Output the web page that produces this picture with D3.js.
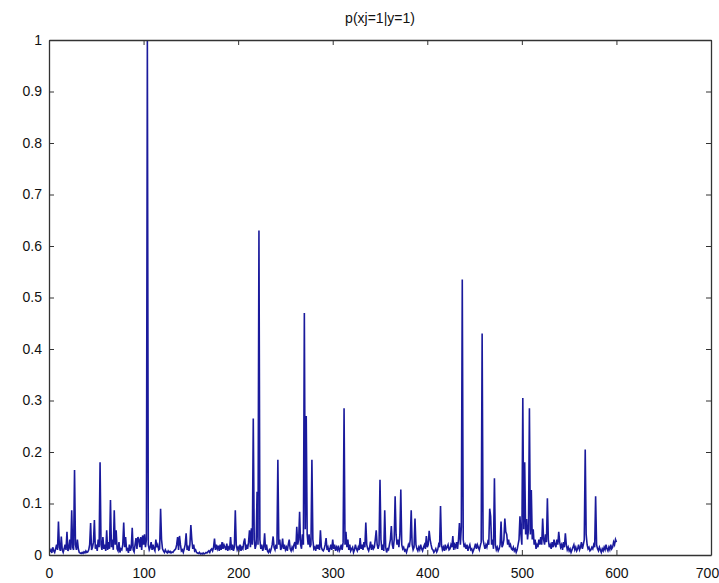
<!DOCTYPE html>
<html>
<head>
<meta charset="utf-8">
<script src="https://cdn.jsdelivr.net/npm/d3@7"></script>
<style>
  html, body { margin: 0; padding: 0; background: #fff; }
  svg { display: block; }
  .axis text { font-family: "Liberation Sans", Arial, sans-serif; font-size: 14px; fill: #111; }
  .axis path, .axis line { stroke: #333; }
</style>
</head>
<body>
<svg id="chart" width="719" height="583"></svg>
<script>
const title = "p(xj=1|y=1)";
const xTicks = [0, 100, 200, 300, 400, 500, 600, 700];
const yTicks = [0, 0.1, 0.2, 0.3, 0.4, 0.5, 0.6, 0.7, 0.8, 0.9, 1];
const xDomain = [0, 700];
const yDomain = [0, 1];

// p(xj=1|y=1) for j = 1..600
const probs = [
  0.006,0.01,0.004,0.015,0.008,0.005,0.012,0.02,0.01,0.065,0.015,0.008,0.036,0.01,0.005,0.012,0.02,0.01,0.045,0.008,
  0.012,0.03,0.01,0.087,0.015,0.01,0.165,0.02,0.01,0.03,0.012,0.005,0.004,0.003,0.005,0.003,0.006,0.004,0.008,0.005,
  0.006,0.01,0.02,0.062,0.01,0.015,0.025,0.068,0.012,0.02,0.008,0.03,0.015,0.18,0.02,0.01,0.035,0.012,0.02,0.008,
  0.048,0.01,0.025,0.012,0.107,0.015,0.03,0.01,0.087,0.02,0.048,0.012,0.008,0.025,0.005,0.012,0.01,0.02,0.063,0.015,
  0.035,0.01,0.012,0.004,0.02,0.008,0.015,0.053,0.01,0.006,0.02,0.033,0.012,0.035,0.03,0.015,0.035,0.01,0.038,0.02,
  0.04,0.015,0.03,1.0,0.02,0.01,0.015,0.025,0.01,0.02,0.012,0.008,0.03,0.015,0.02,0.01,0.012,0.09,0.03,0.012,
  0.008,0.005,0.01,0.006,0.004,0.008,0.005,0.007,0.004,0.006,0.005,0.008,0.01,0.012,0.02,0.035,0.01,0.037,0.02,0.008,
  0.01,0.005,0.012,0.02,0.042,0.01,0.015,0.008,0.02,0.058,0.03,0.012,0.02,0.008,0.01,0.005,0.004,0.003,0.005,0.002,
  0.003,0.002,0.004,0.002,0.003,0.005,0.004,0.006,0.008,0.005,0.01,0.012,0.008,0.015,0.032,0.01,0.02,0.012,0.018,0.008,
  0.02,0.01,0.025,0.012,0.02,0.015,0.01,0.022,0.008,0.015,0.012,0.035,0.01,0.02,0.008,0.015,0.087,0.02,0.01,0.015,
  0.01,0.02,0.008,0.015,0.012,0.025,0.032,0.01,0.02,0.012,0.025,0.048,0.015,0.052,0.02,0.265,0.03,0.012,0.02,0.123,
  0.02,0.63,0.03,0.012,0.02,0.008,0.015,0.042,0.01,0.02,0.008,0.005,0.01,0.006,0.012,0.02,0.036,0.015,0.01,0.02,
  0.012,0.185,0.02,0.03,0.01,0.015,0.032,0.012,0.02,0.01,0.015,0.008,0.02,0.03,0.012,0.008,0.015,0.01,0.02,0.025,
  0.012,0.055,0.02,0.03,0.084,0.02,0.012,0.04,0.02,0.47,0.05,0.27,0.04,0.02,0.04,0.015,0.02,0.185,0.03,0.012,
  0.015,0.008,0.02,0.012,0.02,0.01,0.048,0.015,0.01,0.008,0.012,0.02,0.033,0.01,0.015,0.006,0.012,0.02,0.01,0.03,
  0.012,0.02,0.008,0.015,0.01,0.018,0.008,0.012,0.02,0.01,0.025,0.285,0.02,0.045,0.015,0.03,0.01,0.02,0.008,0.012,
  0.015,0.005,0.01,0.02,0.012,0.008,0.015,0.01,0.033,0.012,0.02,0.01,0.025,0.015,0.063,0.02,0.012,0.008,0.015,0.026,
  0.01,0.02,0.012,0.015,0.03,0.048,0.02,0.012,0.02,0.146,0.03,0.01,0.02,0.008,0.087,0.015,0.005,0.012,0.01,0.02,
  0.03,0.056,0.02,0.012,0.03,0.114,0.04,0.02,0.03,0.015,0.04,0.127,0.02,0.012,0.015,0.008,0.01,0.005,0.012,0.02,
  0.015,0.03,0.087,0.02,0.01,0.015,0.071,0.02,0.012,0.008,0.015,0.01,0.02,0.012,0.008,0.015,0.02,0.012,0.037,0.015,
  0.02,0.047,0.03,0.02,0.012,0.01,0.005,0.008,0.012,0.006,0.01,0.02,0.015,0.095,0.02,0.01,0.015,0.008,0.02,0.012,
  0.015,0.02,0.01,0.012,0.02,0.015,0.037,0.01,0.02,0.015,0.025,0.012,0.03,0.062,0.02,0.055,0.535,0.03,0.015,0.02,
  0.012,0.02,0.008,0.015,0.02,0.01,0.012,0.005,0.01,0.015,0.022,0.012,0.02,0.015,0.01,0.018,0.025,0.43,0.03,0.02,
  0.012,0.02,0.015,0.025,0.02,0.09,0.075,0.02,0.03,0.012,0.149,0.02,0.01,0.015,0.008,0.012,0.02,0.065,0.015,0.02,
  0.03,0.071,0.045,0.04,0.02,0.03,0.015,0.02,0.012,0.01,0.015,0.008,0.012,0.005,0.01,0.02,0.03,0.075,0.04,0.02,
  0.305,0.05,0.18,0.04,0.07,0.03,0.05,0.285,0.04,0.126,0.03,0.05,0.02,0.03,0.012,0.02,0.015,0.03,0.02,0.035,
  0.02,0.071,0.03,0.02,0.04,0.025,0.11,0.03,0.015,0.02,0.012,0.025,0.015,0.03,0.02,0.015,0.03,0.02,0.045,0.025,
  0.015,0.02,0.01,0.025,0.015,0.042,0.02,0.01,0.015,0.008,0.012,0.005,0.01,0.015,0.02,0.01,0.015,0.008,0.012,0.02,
  0.01,0.015,0.025,0.012,0.02,0.03,0.205,0.04,0.02,0.012,0.015,0.008,0.01,0.015,0.012,0.02,0.015,0.114,0.02,0.012,
  0.008,0.015,0.01,0.005,0.012,0.008,0.015,0.01,0.02,0.012,0.008,0.015,0.01,0.02,0.012,0.015,0.025,0.02,0.03,0.025
];

const svg = d3.select("#chart");
const L = 49, R = 711, T = 40, B = 555;
const x = d3.scaleLinear().domain(xDomain).range([L, R]);
const y = d3.scaleLinear().domain(yDomain).range([B, T]);

// data line
const line = d3.line().x((d, i) => x(i + 1)).y(d => y(d));
svg.append("path")
  .datum(probs)
  .attr("fill", "none")
  .attr("stroke", "#1a1a9c")
  .attr("stroke-width", 1.6)
  .attr("stroke-linejoin", "miter")
  .attr("d", line);

const fmt = d => String(d);
const tk = 5;

const gx = svg.append("g").attr("class", "axis")
  .attr("transform", `translate(0,${B})`)
  .call(d3.axisBottom(x).tickValues(xTicks).tickFormat(fmt).tickSizeInner(-tk).tickSizeOuter(0).tickPadding(13));
// keep the last label inside the window
gx.selectAll(".tick text").filter(d => d === 700).attr("dx", "-4");

svg.append("g").attr("class", "axis")
  .attr("transform", `translate(0,${T})`)
  .call(d3.axisTop(x).tickValues(xTicks).tickFormat("").tickSizeInner(-tk).tickSizeOuter(0));
svg.append("g").attr("class", "axis")
  .attr("transform", `translate(${L},0)`)
  .call(d3.axisLeft(y).tickValues(yTicks).tickFormat(fmt).tickSizeInner(-tk).tickSizeOuter(0).tickPadding(7));
svg.append("g").attr("class", "axis")
  .attr("transform", `translate(${R},0)`)
  .call(d3.axisRight(y).tickValues(yTicks).tickFormat("").tickSizeInner(-tk).tickSizeOuter(0));

svg.selectAll(".axis .domain").attr("stroke", "#333").attr("stroke-width", 1.3);

svg.append("text")
  .attr("x", (L + R) / 2)
  .attr("y", T - 17)
  .attr("text-anchor", "middle")
  .style("font-family", "\"Liberation Sans\", Arial, sans-serif")
  .style("font-size", "14px")
  .style("fill", "#111")
  .text(title);
</script>
</body>
</html>
